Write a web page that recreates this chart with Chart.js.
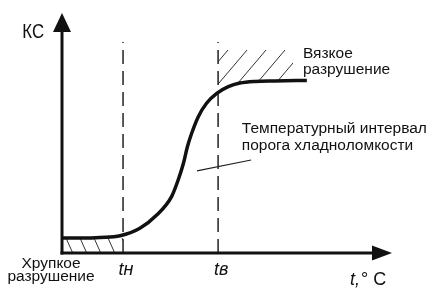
<!DOCTYPE html>
<html><head><meta charset="utf-8">
<script src="https://cdn.jsdelivr.net/npm/chart.js@4/dist/chart.umd.min.js"></script>
<style>html,body{margin:0;padding:0;background:#fff;}#wrap{width:446px;height:294px;}</style>
</head><body><div id="wrap"><canvas id="c" width="446" height="294"></canvas></div>
<script>
// ---- data (arbitrary units: temperature 0..100, impact toughness KC 0..100) ----
const curveT  = [0, 7, 11.5, 17.6, 23.6, 28.7, 33.2, 35.2, 36.8, 38.0, 39.3, 41.3, 43.8, 46.9, 50.4, 53.9, 58.5, 64.5, 74.2];
const curveKC = [6.25, 6.25, 6.5, 7.2, 10.3, 15.8, 23.5, 30.4, 37.4, 44.3, 49.9, 56.8, 62.4, 66.5, 69.3, 70.8, 71.5, 71.7, 71.9];
const tickValues = [18.5, 47.3];
const tickLabels = ['tн', 'tв'];
const dashTop = 87.9;              // top of the dashed threshold lines
const leaderT  = [40.9, 57.3];     // leader line to the interval label
const leaderKC = [34.2, 38.75];
const brittleLevel = 6.25;
const ductileTop = 84.6;
const ductileRight = 70;
const axisTitleX = 't,';
const axisTitleX2 = '° C';
const axisTitleY = 'КС';
const labelDuctile = ['Вязкое', 'разрушение'];
const labelInterval = ['Температурный интервал', 'порога хладноломкости'];
const labelBrittle = ['Хрупкое', 'разрушение'];

// ---- layout / style (not data) ----
const INK = '#111';
const FONT = '"Liberation Sans", Arial, sans-serif';

function curveAt(t) {
  for (let i = 0; i < curveT.length - 1; i++) {
    if (t >= curveT[i] && t <= curveT[i + 1]) {
      const f = (t - curveT[i]) / (curveT[i + 1] - curveT[i]);
      return curveKC[i] + f * (curveKC[i + 1] - curveKC[i]);
    }
  }
  return curveKC[curveKC.length - 1];
}

const decor = {
  id: 'decor',
  beforeDatasetsDraw(chart) {
    const c = chart.ctx, X = chart.scales.x, Y = chart.scales.y;
    // brittle hatch
    const xa = X.getPixelForValue(0), xb = X.getPixelForValue(tickValues[0]);
    const ya = Y.getPixelForValue(0), yb = Y.getPixelForValue(brittleLevel);
    c.save();
    c.beginPath(); c.rect(xa, yb, xb - xa, ya - yb); c.clip();
    c.strokeStyle = '#333'; c.lineWidth = 1;
    const h = ya - yb;
    for (let sx = xa + 4; sx < xb + 10; sx += 14) {
      c.beginPath(); c.moveTo(sx, yb); c.lineTo(sx + 0.45 * h, ya); c.stroke();
    }
    c.restore();
    // ductile hatch
    const dl = X.getPixelForValue(tickValues[1]), dr = X.getPixelForValue(ductileRight);
    const dt = Y.getPixelForValue(ductileTop);
    c.save();
    c.beginPath();
    c.moveTo(dl, dt); c.lineTo(dr, dt);
    const steps = 40;
    for (let i = 0; i <= steps; i++) {
      const t = ductileRight - (ductileRight - tickValues[1]) * i / steps;
      c.lineTo(X.getPixelForValue(t), Y.getPixelForValue(curveAt(t)));
    }
    c.closePath(); c.clip();
    c.strokeStyle = '#333'; c.lineWidth = 1;
    for (let sx = dl + 10; sx < dr + 40; sx += 19) {
      c.beginPath(); c.moveTo(sx, dt); c.lineTo(sx - 0.85 * 60, dt + 60); c.stroke();
    }
    c.restore();
  },
  afterDraw(chart) {
    const c = chart.ctx, X = chart.scales.x, Y = chart.scales.y;
    const x0 = X.getPixelForValue(0), y0 = Y.getPixelForValue(0);
    const xT = X.getPixelForValue(100), yT = Y.getPixelForValue(100);
    c.save();
    c.strokeStyle = INK; c.fillStyle = INK; c.lineWidth = 3; c.lineCap = 'butt';
    // y axis
    c.beginPath(); c.moveTo(x0, y0 + 1.5); c.lineTo(x0, yT + 15); c.stroke();
    c.beginPath(); c.moveTo(x0, yT); c.lineTo(x0 - 9, yT + 19); c.lineTo(x0 + 9, yT + 19); c.closePath(); c.fill();
    // x axis
    c.beginPath(); c.moveTo(x0 - 1.5, y0); c.lineTo(xT - 15, y0); c.stroke();
    c.beginPath(); c.moveTo(xT, y0); c.lineTo(xT - 20, y0 - 7.5); c.lineTo(xT - 20, y0 + 7.5); c.closePath(); c.fill();

    // texts
    c.textBaseline = 'alphabetic';
    // KC
    c.save();
    c.font = '21px ' + FONT; c.textAlign = 'right';
    c.translate(X.getPixelForValue(-5.45), Y.getPixelForValue(89.6)); c.scale(0.8, 1);
    c.fillText(axisTitleY, 0, 0);
    c.restore();
    // tick labels
    c.font = 'italic 18px ' + FONT; c.textAlign = 'center';
    tickValues.forEach((v, i) => c.fillText(tickLabels[i], X.getPixelForValue(v) + 3, Y.getPixelForValue(-9.17)));
    // x axis title
    c.textAlign = 'left';
    const tx = X.getPixelForValue(87.3), ty = Y.getPixelForValue(-13.3);
    c.fillText(axisTitleX, tx, ty);
    const w = c.measureText(axisTitleX).width;
    c.font = '18px ' + FONT;
    c.fillText(axisTitleX2, tx + w + 1, ty);
    // annotations
    c.font = '15.5px ' + FONT; c.textAlign = 'left';
    c.fillText(labelDuctile[0], X.getPixelForValue(73.0), Y.getPixelForValue(81.25));
    c.fillText(labelDuctile[1], X.getPixelForValue(73.0), Y.getPixelForValue(74.6));
    c.fillText(labelInterval[0], X.getPixelForValue(54.5), Y.getPixelForValue(50));
    c.fillText(labelInterval[1], X.getPixelForValue(54.5), Y.getPixelForValue(42.9));
    c.textAlign = 'center';
    c.fillText(labelBrittle[0], X.getPixelForValue(-3.33), Y.getPixelForValue(-6.25));
    c.fillText(labelBrittle[1], X.getPixelForValue(-3.33), Y.getPixelForValue(-11.67));
    c.restore();
  }
};

const pts = (xs, ys) => xs.map((v, i) => ({ x: v, y: ys[i] }));

new Chart(document.getElementById('c'), {
  type: 'line',
  data: {
    datasets: [
      { data: pts(curveT, curveKC), borderColor: INK, borderWidth: 3.5, pointRadius: 0,
        cubicInterpolationMode: 'monotone', fill: false, clip: false },
      ...tickValues.map(v => ({ data: pts([v, v], [0, dashTop]), borderColor: '#222', borderWidth: 1.5,
        borderDash: [14, 7], pointRadius: 0, fill: false, clip: false })),
      { data: pts(leaderT, leaderKC), borderColor: '#222', borderWidth: 1.2, pointRadius: 0, fill: false, clip: false }
    ]
  },
  options: {
    responsive: false, animation: false, devicePixelRatio: 1,
    layout: { padding: { left: 62, right: 54, top: 13, bottom: 41 } },
    scales: {
      x: { type: 'linear', min: 0, max: 100, display: false },
      y: { type: 'linear', min: 0, max: 100, display: false }
    },
    plugins: { legend: { display: false }, tooltip: { enabled: false } }
  },
  plugins: [decor]
});
</script></body></html>
